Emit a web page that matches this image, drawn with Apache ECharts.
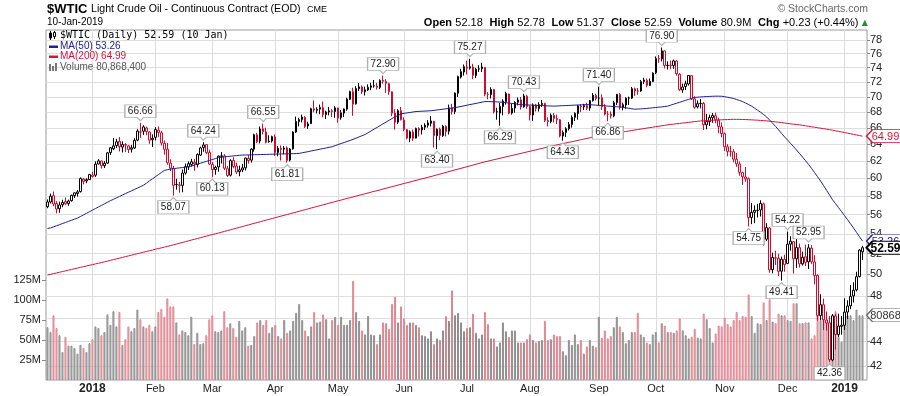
<!DOCTYPE html>
<html><head><meta charset="utf-8">
<script src="https://cdn.jsdelivr.net/npm/echarts@6/dist/echarts.min.js"></script>
<style>html,body{margin:0;padding:0;background:#fff}#c{width:900px;height:396px}</style>
</head><body><div id="c"></div>
<script>
// ---- trading days (categories) ----
const monthDays = [
 [2017,12,[8,11,12,13,14,15,18,19,20,21,22,26,27,28,29]],
 [2018,1,[2,3,4,5,8,9,10,11,12,16,17,18,19,22,23,24,25,26,29,30,31]],
 [2018,2,[1,2,5,6,7,8,9,12,13,14,15,16,20,21,22,23,26,27,28]],
 [2018,3,[1,2,5,6,7,8,9,12,13,14,15,16,19,20,21,22,23,26,27,28,29]],
 [2018,4,[2,3,4,5,6,9,10,11,12,13,16,17,18,19,20,23,24,25,26,27,30]],
 [2018,5,[1,2,3,4,7,8,9,10,11,14,15,16,17,18,21,22,23,24,25,29,30,31]],
 [2018,6,[1,4,5,6,7,8,11,12,13,14,15,18,19,20,21,22,25,26,27,28,29]],
 [2018,7,[2,3,5,6,9,10,11,12,13,16,17,18,19,20,23,24,25,26,27,30,31]],
 [2018,8,[1,2,3,6,7,8,9,10,13,14,15,16,17,20,21,22,23,24,27,28,29,30,31]],
 [2018,9,[4,5,6,7,10,11,12,13,14,17,18,19,20,21,24,25,26,27,28]],
 [2018,10,[1,2,3,4,5,8,9,10,11,12,15,16,17,18,19,22,23,24,25,26,29,30,31]],
 [2018,11,[1,2,5,6,7,8,9,12,13,14,15,16,19,20,21,23,26,27,28,29,30]],
 [2018,12,[3,4,6,7,10,11,12,13,14,17,18,19,20,21,24,26,27,28,31]],
 [2019,1,[2,3,4,7,8,9,10]]
];

// ---- price series ----
const opens = [
 56.85,57.36,58.05,57.20,56.64,57.05,57.40,57.20,57.50,58.05,58.30,58.50,59.90,59.70,59.85,
 60.20,60.35,61.65,62.00,61.45,61.75,63.00,63.45,63.85,64.35,63.65,63.90,63.80,63.40,63.55,64.50,65.50,65.60,66.00,65.50,64.55,
 64.85,65.75,65.40,64.10,63.40,61.75,61.10,59.30,59.25,59.20,60.60,61.30,61.60,61.85,61.60,62.70,63.60,63.95,63.00,
 61.60,61.00,61.30,62.55,62.60,61.10,60.35,62.05,61.40,60.75,60.95,61.20,62.30,62.10,63.40,65.15,64.40,65.90,65.50,64.30,64.40,
 64.90,63.00,63.50,63.40,63.55,62.10,63.45,65.50,66.80,67.05,67.35,66.25,66.55,68.45,68.25,68.40,68.60,67.70,68.05,68.20,68.10,
 68.55,67.30,67.90,68.40,69.70,70.70,69.10,71.10,71.35,70.70,70.95,71.30,71.50,71.45,71.30,72.25,72.10,71.80,70.70,67.90,66.75,68.20,
 67.00,65.80,64.75,65.50,64.75,65.95,65.75,66.10,66.35,66.60,66.85,65.05,65.85,65.05,66.20,65.60,68.60,68.10,70.50,72.70,73.40,
 74.10,73.95,74.10,72.90,73.80,73.85,74.05,70.35,70.30,71.00,68.05,67.90,68.75,69.40,70.40,67.90,68.55,69.30,69.60,68.70,70.10,
 68.75,67.65,68.95,68.50,69.00,69.15,66.95,66.80,67.60,67.20,67.05,65.00,65.45,65.90,66.45,67.35,67.85,68.80,68.70,68.85,68.55,69.50,70.20,
 69.85,69.90,68.70,67.75,67.75,67.55,69.25,70.35,68.60,68.95,69.85,69.85,71.10,70.80,70.80,72.10,72.25,71.55,72.10,
 73.30,75.30,75.25,76.40,74.30,74.35,74.30,74.95,73.10,70.95,71.40,71.75,72.90,69.75,68.70,69.15,69.15,66.40,66.80,67.30,67.55,67.00,66.15,
 65.30,63.70,63.10,63.10,62.20,61.65,60.65,60.15,59.95,55.70,56.25,56.45,56.50,57.15,53.45,54.60,50.45,51.60,51.55,50.30,51.45,
 51.05,52.95,53.20,51.50,52.60,51.00,51.70,51.20,52.55,51.20,49.90,46.25,47.20,45.85,45.60,42.50,46.20,44.60,45.30,
 45.40,46.55,47.10,48.00,48.55,49.80,52.18
];
const highs = [
 57.64,58.28,58.50,57.44,57.40,57.60,57.85,57.62,58.16,58.40,58.66,60.10,60.05,60.00,60.51,
 60.74,61.95,62.21,62.04,61.97,63.07,63.67,64.77,64.66,64.89,64.35,64.13,63.92,63.90,64.74,65.85,66.66,66.35,66.18,65.60,65.20,
 66.10,66.20,65.65,64.45,64.15,62.20,61.42,59.95,59.60,61.00,61.70,61.95,62.25,62.25,62.90,63.70,64.24,64.00,63.35,
 61.90,61.45,62.65,63.05,62.80,61.40,62.20,62.45,61.80,61.45,61.65,62.40,62.70,63.55,65.30,65.40,66.20,66.55,66.05,65.10,65.05,
 65.20,63.80,63.85,63.80,63.75,63.55,65.60,67.45,67.30,67.70,67.50,66.80,68.60,69.55,68.65,69.00,69.40,68.20,68.70,68.40,68.80,
 68.60,68.30,68.50,69.90,70.85,71.25,71.45,71.90,71.55,71.40,71.70,71.90,72.30,71.90,72.40,72.90,72.40,71.95,70.75,68.40,68.40,68.70,
 67.35,65.90,65.70,65.80,66.05,66.10,66.40,66.60,67.00,67.50,66.90,65.95,66.05,66.40,66.35,69.00,69.10,70.60,72.90,73.85,74.45,
 75.00,75.27,74.55,74.00,74.35,74.70,74.10,70.65,71.30,71.10,68.60,69.20,69.70,70.70,70.45,69.10,69.45,69.95,70.00,70.43,70.30,
 68.90,69.15,69.10,69.30,69.60,69.25,67.35,67.85,67.90,67.70,67.15,65.70,66.10,66.75,67.60,68.00,68.95,69.05,69.10,69.25,69.60,70.55,70.45,
 71.40,70.35,69.05,68.15,68.10,69.50,70.40,70.50,69.25,69.95,70.05,71.35,71.25,71.20,72.30,72.60,72.50,72.50,73.35,
 75.60,75.80,76.90,76.45,74.90,75.00,75.15,75.10,73.25,71.80,72.20,72.95,72.95,70.10,69.55,69.75,69.35,67.80,67.70,67.90,67.95,67.30,66.70,
 65.45,64.00,63.80,63.40,62.95,61.95,60.75,61.30,60.10,57.25,57.00,57.15,57.55,57.30,55.10,54.70,52.10,52.30,52.00,51.70,51.90,
 54.22,53.75,53.25,54.00,53.00,52.20,52.90,52.95,52.85,51.85,50.00,48.15,47.75,46.60,46.20,46.38,46.40,46.40,46.20,
 47.78,47.60,49.00,49.25,50.25,52.45,52.78
];
const lows = [
 56.69,57.19,56.90,56.14,56.20,56.80,57.05,56.95,57.40,57.80,57.95,58.40,59.30,59.45,59.80,
 60.10,60.15,61.59,61.12,61.17,61.65,62.72,63.29,63.54,63.13,63.01,63.07,62.94,63.01,63.42,64.36,64.77,65.15,65.10,64.06,63.67,
 64.47,64.90,63.84,62.75,61.55,60.83,58.07,58.72,58.39,58.43,60.41,60.95,61.35,60.85,61.25,62.60,63.10,62.80,61.52,
 60.13,60.40,60.75,61.70,60.95,60.15,60.20,61.15,60.50,60.23,60.70,60.90,61.70,61.80,63.10,64.13,64.10,65.20,64.10,64.20,64.20,
 62.60,62.55,62.05,62.80,61.81,61.95,63.35,65.40,66.20,66.70,66.00,65.90,66.50,68.00,67.85,67.75,67.35,67.15,67.60,67.40,67.30,
 66.65,67.05,67.40,68.20,69.60,67.55,69.00,70.80,70.40,70.20,70.80,70.90,71.25,71.00,71.05,71.80,70.55,70.30,67.50,65.80,66.50,66.95,
 65.60,64.60,64.25,64.40,64.70,64.95,65.20,65.75,66.05,66.20,63.60,63.40,64.50,64.90,64.95,65.20,67.70,67.75,70.00,72.50,72.90,
 73.06,73.75,72.40,72.55,73.40,73.40,70.10,69.70,69.80,67.85,67.05,66.29,67.60,69.00,67.75,67.70,67.95,68.90,68.35,68.60,68.45,
 66.95,66.90,68.10,68.10,68.70,66.75,66.20,66.60,66.70,66.50,64.85,64.43,64.90,65.70,66.05,66.90,67.05,68.05,68.30,68.30,68.20,69.40,69.55,
 68.85,68.30,67.60,66.86,67.20,67.35,68.95,68.35,68.25,68.45,68.95,69.75,70.15,70.30,70.70,71.75,71.30,71.50,72.00,
 73.10,74.70,74.90,73.90,73.75,73.80,73.85,72.90,70.80,70.55,70.95,71.55,69.60,68.45,68.50,68.50,65.75,65.85,66.25,66.65,66.60,65.35,64.85,
 63.20,62.55,62.50,61.85,61.30,60.30,59.25,59.60,54.75,55.00,55.10,55.70,55.80,52.80,53.25,50.15,50.10,50.90,49.85,49.41,50.25,
 51.00,52.30,50.08,50.60,50.65,50.85,50.80,50.50,51.00,49.05,45.80,45.85,45.00,44.94,42.36,42.40,43.35,44.40,44.60,
 45.00,45.95,46.80,47.40,48.40,49.70,51.37
];
const closes = [
 57.36,57.99,57.14,56.60,57.04,57.30,57.16,57.46,58.09,58.36,58.47,59.97,59.64,59.84,60.42,
 60.37,61.63,62.01,61.44,61.73,62.96,63.57,63.80,64.30,63.73,63.97,63.95,63.37,63.57,64.47,65.61,65.51,66.14,65.56,64.50,64.73,
 65.80,65.45,64.15,63.39,61.79,61.15,59.20,59.29,59.19,60.60,61.34,61.68,61.90,61.68,62.77,63.55,63.91,63.01,61.64,
 60.99,61.25,62.57,62.60,61.15,60.32,62.04,61.36,60.71,60.96,61.19,62.34,62.06,63.40,65.17,64.30,65.88,65.55,64.25,64.38,64.94,
 63.01,63.51,63.37,63.54,62.06,63.42,65.51,66.82,67.07,67.39,66.22,66.52,68.47,68.29,68.38,68.64,67.70,68.05,68.19,68.10,68.57,
 67.25,67.93,68.43,69.72,70.73,69.06,71.14,71.36,70.70,70.96,71.31,71.49,71.49,71.28,72.24,72.13,71.84,70.71,67.88,66.73,68.21,67.04,
 65.81,64.75,65.52,64.73,65.95,65.74,66.10,66.36,66.64,66.89,65.06,65.85,65.07,66.22,65.54,68.58,68.08,70.53,72.76,73.45,74.15,
 73.94,74.14,72.94,73.80,73.85,74.11,70.38,70.33,71.01,68.06,68.08,68.76,69.46,70.46,67.89,68.52,69.30,69.61,68.69,70.13,68.76,
 67.66,68.96,68.49,69.01,69.17,66.94,66.81,67.63,67.20,67.04,65.01,65.46,65.91,66.43,67.35,67.86,68.83,68.72,68.87,68.53,69.51,70.25,69.80,
 69.87,68.72,67.77,67.75,67.54,69.25,70.37,68.59,68.99,69.85,69.85,71.12,70.80,70.78,72.08,72.28,71.57,72.12,73.25,
 75.30,75.23,76.41,74.33,74.34,74.29,74.96,73.17,70.97,71.34,71.78,72.92,69.75,68.65,69.12,69.17,66.43,66.82,67.33,67.59,67.04,66.18,65.31,
 63.69,63.14,63.10,62.21,61.67,60.67,60.19,59.93,55.69,56.25,56.46,56.46,57.20,53.43,54.63,50.42,51.63,51.56,50.29,51.45,50.93,
 52.95,53.25,51.49,52.61,51.00,51.65,51.15,52.58,51.20,49.88,46.24,47.20,45.88,45.59,42.53,46.22,44.61,45.33,45.41,
 46.54,47.09,47.96,48.52,49.78,52.36,52.59
];
// volume, millions of contracts
const volumes = [
 66,60,81,65,56,35,54,43,43,40,33,44,40,35,46,51,67,65,56,60,82,69,86,67,85,44,51,67,61,65,88,76,67,65,69,61,67,
 85,89,79,102,92,92,72,57,62,60,56,79,45,59,45,46,56,76,81,61,60,62,86,
 66,
 71,65,54,74,62,66,43,44,55,72,75,69,75,59,66,69,55,52,75,59,
 62,
 74,84,95,75,62,55,67,85,72,73,82,76,52,75,79,69,79,69,69,75,124,85,74,62,57,80,57,56,45,57,72,71,64,95,104,72,92,77,69,72,72,69,66,56,55,52,61,45,52,50,
 62,80,74,112,81,84,72,61,65,66,83,59,52,57,85,70,52,52,42,47,72,61,54,62,62,47,47,47,51,57,
 50,47,49,50,74,50,51,57,55,55,36,31,50,44,57,45,50,33,42,50,43,41,79,53,62,52,55,66,79,67,
 60,46,50,60,60,84,57,54,47,45,57,60,47,71,68,60,60,59,62,77,62,56,52,54,64,53,52,83,76,65,
 47,58,68,67,78,70,67,75,85,75,80,79,107,80,59,71,70,97,75,101,73,71,83,81,81,75,74,96,96,71,
 71,72,72,52,56,83,75,81,73,69,70,86,54,48,83,81,81,75,88,81,80.8684
];
const ma50 = [
 54.55,
 54.60,54.71,54.83,54.94,55.06,55.17,55.29,55.40,55.52,55.63,
 55.80,55.97,56.14,56.31,56.48,56.65,56.82,56.99,57.16,57.33,57.50,
 57.65,57.81,57.96,58.12,58.27,58.43,58.58,58.74,58.89,59.05,59.20,
 59.44,59.69,59.93,60.17,60.41,60.66,60.90,
 60.98,61.05,61.10,61.15,61.19,61.23,61.28,61.33,61.40,
 61.51,61.62,61.73,61.84,61.95,62.06,62.17,62.28,62.40,
 62.44,62.48,62.52,62.56,62.60,62.63,62.67,62.70,
 62.71,62.72,62.73,62.74,62.75,62.76,62.77,62.78,62.79,62.80,62.81,62.82,62.83,62.84,62.85,62.86,62.87,62.88,62.90,
 62.97,63.04,63.11,63.19,63.26,63.33,63.41,63.48,63.55,63.63,63.70,
 63.83,63.96,64.09,64.21,64.34,64.47,64.60,
 64.75,64.90,65.05,65.20,
 65.42,65.64,65.86,66.08,66.30,
 66.53,66.75,66.98,67.20,
 67.40,67.60,67.80,
 67.86,67.92,67.98,68.04,68.10,
 68.12,68.14,68.16,68.18,68.20,
 68.25,68.30,68.35,68.40,68.45,68.50,68.55,68.60,
 68.68,68.76,68.84,68.92,69.00,69.08,69.16,69.24,69.32,69.40,
 69.40,69.39,69.37,69.35,69.33,69.30,
 69.25,69.20,69.15,69.10,69.05,69.00,
 68.98,68.96,68.94,68.92,68.90,68.89,68.87,68.85,68.83,68.82,68.80,
 68.82,68.84,68.86,68.87,68.89,68.91,68.93,68.95,68.96,68.98,69.00,
 68.98,68.96,68.93,68.90,68.87,68.84,68.81,68.78,68.75,68.72,68.70,
 68.64,68.58,68.52,68.46,68.40,
 68.42,68.44,68.47,68.50,68.54,68.58,68.62,68.66,68.70,68.75,68.80,
 68.93,69.06,69.18,69.31,69.44,69.57,69.69,69.82,69.95,
 69.98,70.01,70.04,70.06,70.08,70.10,70.11,70.11,70.10,
 70.04,69.97,69.89,69.80,
 69.67,69.54,69.40,
 69.20,69.00,68.80,
 68.53,68.27,68.00,
 67.70,67.40,
 67.00,66.60,66.20,
 65.77,65.33,64.90,
 64.50,64.10,63.70,63.30,
 62.88,62.45,62.03,61.60,
 61.13,60.65,60.18,59.70,
 59.18,58.65,58.13,57.60,
 57.18,56.75,56.33,55.90,
 55.47,55.03,54.60,
 54.15,53.70,53.26
];
const ma200 = [
 49.95,
 50.00,50.07,50.13,50.20,50.27,50.33,50.40,50.47,50.53,50.60,50.67,50.73,50.80,50.87,50.93,51.00,51.07,51.13,51.20,
 51.27,51.35,51.42,51.49,51.56,51.64,51.71,51.78,51.85,51.93,52.00,52.07,52.15,52.22,52.29,52.36,52.44,52.51,52.58,52.65,52.73,52.80,
 52.88,52.96,53.04,53.12,53.20,53.28,53.36,53.44,53.52,53.60,53.68,53.76,53.84,53.92,54.00,54.08,54.16,54.24,54.32,54.40,
 54.49,54.57,54.66,54.74,54.83,54.91,55.00,55.08,55.17,55.25,55.34,55.42,55.51,55.59,55.68,55.76,55.85,55.93,56.02,56.10,
 56.19,56.27,56.36,56.45,56.53,56.62,56.71,56.79,56.88,56.97,57.05,57.14,57.23,57.31,57.40,
 57.49,57.57,57.66,57.75,57.83,57.92,58.01,58.09,58.18,58.27,58.35,58.44,58.53,58.61,58.70,
 58.79,58.88,58.96,59.05,59.14,59.23,59.32,59.41,59.49,59.58,59.67,59.76,59.85,59.94,60.02,60.11,60.20,
 60.29,60.39,60.48,60.58,60.67,60.77,60.86,60.96,61.05,61.14,61.24,61.33,61.43,61.52,61.62,61.71,61.81,61.90,
 61.98,62.07,62.15,62.23,62.32,62.40,62.48,62.57,62.65,62.73,62.82,62.90,
 62.98,63.07,63.15,63.24,63.32,63.41,63.49,63.58,63.66,63.75,63.83,63.92,64.00,
 64.08,64.16,64.24,64.31,64.39,64.47,64.55,64.63,64.71,64.79,64.86,64.94,65.02,65.10,
 65.16,65.22,65.28,65.34,65.40,65.45,65.51,65.57,65.63,65.69,65.75,65.81,65.87,65.93,65.99,66.05,66.11,66.17,66.22,66.28,66.34,66.40,
 66.45,66.49,66.54,66.58,66.63,66.67,66.72,66.76,66.81,66.85,66.90,
 66.92,66.94,66.96,66.98,67.00,67.02,67.04,67.06,67.07,67.09,67.10,
 67.10,67.09,67.08,67.07,67.05,67.03,67.01,66.99,66.96,66.93,66.90,
 66.86,66.82,66.77,66.73,66.68,66.63,66.58,66.53,66.48,66.44,66.40,
 66.34,66.28,66.22,66.16,66.10,66.04,65.98,65.92,65.86,65.80,
 65.73,65.65,65.58,65.51,65.43,65.36,65.29,65.21,65.14,65.06,64.99
];
const priceTicks = [42,44,46,48,50,52,54,56,58,60,62,64,66,68,70,72,74,76,78];
const volumeTicks = [25,50,75,100,125];
const monthNames = ['Jan','Feb','Mar','Apr','May','Jun','Jul','Aug','Sep','Oct','Nov','Dec'];
const annotations = [
 ['2018-01-25','high'],['2018-02-09','low'],['2018-02-26','high'],['2018-03-01','low'],
 ['2018-03-26','high'],['2018-04-06','low'],['2018-05-22','high'],['2018-06-18','low'],
 ['2018-07-03','high'],['2018-07-18','low'],['2018-07-30','high'],['2018-08-16','low'],
 ['2018-09-04','high'],['2018-09-07','low'],['2018-10-03','high'],['2018-11-13','low'],
 ['2018-11-29','low'],['2018-12-03','high'],['2018-12-13','high'],['2018-12-24','low']
];

// ---- build ----
const pad = n => String(n).padStart(2,'0');
const dates = [];
monthDays.forEach(([y,m,days]) => days.forEach(d => dates.push(y+'-'+pad(m)+'-'+pad(d))));
const N = dates.length;
const cats = dates.concat(['']);
const ln = Math.log;
const RED = '#d20a2e', BLACK = '#000000', NAVY = '#20208f', MA200C = '#d4143c';
const monthStart = new Set();
for (let i = 1; i < N; i++) if (dates[i].slice(5,7) !== dates[i-1].slice(5,7)) monthStart.add(i);

const candleData = dates.map((d,i) => {
  const up = i === 0 ? true : closes[i] >= closes[i-1];
  const key = up ? BLACK : RED;
  return {value:[ln(opens[i]), ln(closes[i]), ln(lows[i]), ln(highs[i])],
    itemStyle:{color:'#ffffff', color0:key, borderColor:key, borderColor0:key, borderWidth:1}};
});
const volData = volumes.map((v,i) => {
  const down = i > 0 && closes[i] < closes[i-1];
  return {value:v, itemStyle:{color: down ? '#f2bcc2' : '#bdbdbd', borderColor: down ? '#df8590' : '#8e8e8e', borderWidth:1}};
});

const aboveBox = 'path://M0,0L30,0L30,12L18,12L15,15L12,12L0,12Z';
const belowBox = 'path://M0,3L12,3L15,0L18,3L30,3L30,15L0,15Z';
const tagPath = 'path://M0,6.5L6,0L40,0L40,13L6,13Z';
const annPoints = annotations.map(([d,kind]) => {
  const i = dates.indexOf(d);
  const v = kind === 'high' ? highs[i] : lows[i];
  const hi = kind === 'high';
  return {coord:[d, ln(v)], symbol: hi ? aboveBox : belowBox, symbolSize:[31,16], symbolKeepAspect:false,
    symbolOffset:[0, hi ? -10 : 10],
    itemStyle:{color:'#ffffff', borderColor:'#b0b0b0', borderWidth:1},
    label:{show:true, position:'inside', offset:[0, hi ? -1.5 : 1.5], formatter: v.toFixed(2),
      color:'#222', fontSize:10, fontFamily:'Liberation Sans'}};
});
function tag(coord, text, color, textColor, bold, bw) {
  return {coord, symbol: tagPath, symbolSize:[40,13], symbolKeepAspect:false, symbolOffset:[24,0],
    itemStyle:{color:'#ffffff', borderColor:color, borderWidth:bw},
    label:{show:true, position:'inside', offset:[-1,0.5], formatter:text, color:textColor,
      fontSize: bold ? 12 : 11, fontWeight: bold ? 'bold' : 'normal', fontFamily:'Liberation Sans'}};
}
const last = N - 1;
const lastDate = dates[last];
const closeTag = tag([lastDate, ln(closes[last])], closes[last].toFixed(2), '#000', '#000', true, 1.5);
const ma50Tag = tag([lastDate, ln(ma50[last])], ma50[last].toFixed(2), NAVY, NAVY, false, 1);
const ma200Tag = tag([lastDate, ln(ma200[last])], ma200[last].toFixed(2), MA200C, MA200C, false, 1);
const volTag = tag([lastDate, volumes[last]], String(Math.round(volumes[last]*1000)), '#666', '#333', false, 1);

const chg = closes[last] - closes[last-1];
const pct = chg / closes[last-1] * 100;
const sign = chg >= 0 ? '+' : '';
const dd = dates[last].split('-');
const dateLong = dd[2] + '-' + monthNames[+dd[1]-1] + '-' + dd[0];
const dateShort = (+dd[2]) + ' ' + monthNames[+dd[1]-1];
const headerRight = '{b|Open} {n|' + opens[last].toFixed(2) + '}  {b|High} {n|' + highs[last].toFixed(2) +
  '}  {b|Low} {n|' + lows[last].toFixed(2) + '}  {b|Close} {n|' + closes[last].toFixed(2) +
  '}  {b|Volume} {n|' + volumes[last].toFixed(1) + 'M}  {b|Chg} {n|' + sign + chg.toFixed(2) +
  ' (' + sign + pct.toFixed(2) + '%)} {g|▲}';

const FF = '"Liberation Sans", Arial, sans-serif';
function txt(x, y, text, font, fill, align) {
  return {type:'text', x, y, z:50, silent:true,
    style:{text, font, fill, align: align || 'left', textAlign: align || 'left', verticalAlign:'middle', textVerticalAlign:'middle'}};
}

const chart = echarts.init(document.getElementById('c'), null, {renderer:'canvas'});
chart.setOption({
  animation:false,
  backgroundColor:'#ffffff',
  grid:{left:46, right:33, top:30, bottom:16, show:true, borderColor:'#9a9a9a', borderWidth:1, backgroundColor:'transparent'},
  xAxis:{type:'category', data:cats, boundaryGap:true,
    axisLine:{show:false}, axisTick:{show:false}, splitLine:{show:false},
    axisLabel:{interval:(i) => monthStart.has(i), hideOverlap:false, margin:3, fontSize:11, color:'#222', fontFamily:FF,
      formatter:(v) => { if (!v) return ''; const m = +v.slice(5,7); return m === 1 ? '{y|' + v.slice(0,4) + '}' : monthNames[m-1]; },
      rich:{y:{fontWeight:'bold', fontSize:12, fontFamily:FF, color:'#222'}}}},
  yAxis:[
    {type:'value', position:'right', min:ln(40.92), max:ln(79.49),
      axisLine:{show:false},
      axisTick:{show:true, length:3, customValues:priceTicks.map(ln), lineStyle:{color:'#888'}},
      axisLabel:{customValues:priceTicks.map(ln), formatter:(v) => String(Math.round(Math.exp(v))), margin:3,
        fontSize:11, color:'#222', fontFamily:FF},
      splitLine:{show:true, lineStyle:{color:'#dedede', width:1}}},
    {type:'value', position:'left', min:0, max:437.5,
      axisLine:{show:false},
      axisTick:{show:true, length:4, customValues:volumeTicks, lineStyle:{color:'#888'}},
      axisLabel:{customValues:volumeTicks, formatter:(v) => v + 'M', margin:5, fontSize:11, color:'#222', fontFamily:FF},
      splitLine:{show:false}}
  ],
  series:[
    {type:'bar', name:'Volume', xAxisIndex:0, yAxisIndex:1, data:volData, barWidth:2, z:2, silent:true,
      markLine:{silent:true, z:1, symbol:'none', label:{show:false}, animation:false,
        lineStyle:{color:'#dcdcdc', type:'solid', width:1},
        data:[...monthStart].map(i => ({xAxis: dates[i]}))},
      markPoint:{z:12, silent:true, animation:false, data:[volTag]}},
    {type:'candlestick', name:'$WTIC', yAxisIndex:0, data:candleData, barWidth:2, z:3, silent:true,
      markPoint:{z:14, silent:true, animation:false, data: annPoints.concat([closeTag])}},
    {type:'line', name:'MA(200)', yAxisIndex:0, data:ma200.map(ln), symbol:'none', z:4, silent:true,
      lineStyle:{color:MA200C, width:1}, itemStyle:{color:MA200C},
      markPoint:{z:12, silent:true, animation:false, data:[ma200Tag]}},
    {type:'line', name:'MA(50)', yAxisIndex:0, data:ma50.map(ln), symbol:'none', z:4, silent:true,
      lineStyle:{color:NAVY, width:1}, itemStyle:{color:NAVY},
      markPoint:{z:13, silent:true, animation:false, data:[ma50Tag]}}
  ],
  graphic:[
    txt(47, 9.5, '$WTIC', 'bold 13px ' + FF, '#000'),
    txt(91, 9.5, 'Light Crude Oil - Continuous Contract (EOD)', '10.6px ' + FF, '#000'),
    txt(307, 10, 'CME', '9px ' + FF, '#000'),
    txt(47, 22.5, dateLong, '10px ' + FF, '#000'),
    txt(868, 9, '© StockCharts.com', '10.5px ' + FF, '#666', 'right'),
    {type:'text', x:868, y:22.5, z:50, silent:true,
      style:{text:headerRight, align:'right', textAlign:'right', verticalAlign:'middle', textVerticalAlign:'middle',
        rich:{b:{fontWeight:'bold', fontSize:11, fontFamily:FF, fill:'#000'},
              n:{fontSize:11, fontFamily:FF, fill:'#000'},
              g:{fontSize:8, fontFamily:'DejaVu Sans', fill:'#2e8b3a'}}}},
    // legend
    {type:'line', z:50, silent:true, shape:{x1:50.5, y1:31, x2:50.5, y2:40}, style:{stroke:'#000', lineWidth:1}},
    {type:'rect', z:51, silent:true, shape:{x:49.5, y:33, width:2, height:5}, style:{fill:'#000', stroke:'#000', lineWidth:1}},
    {type:'line', z:50, silent:true, shape:{x1:54.5, y1:31, x2:54.5, y2:39}, style:{stroke:'#000', lineWidth:1}},
    {type:'rect', z:51, silent:true, shape:{x:53.5, y:32.5, width:2, height:4}, style:{fill:'#fff', stroke:'#000', lineWidth:1}},
    txt(60, 35.5, '$WTIC (Daily) ' + closes[last].toFixed(2) + ' (' + dateShort + ')', '10px "DejaVu Sans Mono", monospace', '#000'),
    {type:'rect', z:50, silent:true, shape:{x:49, y:45.5, width:9, height:2.5}, style:{fill:NAVY}},
    txt(60, 46.5, 'MA(50) ' + ma50[last].toFixed(2), '10px ' + FF, NAVY),
    {type:'rect', z:50, silent:true, shape:{x:49, y:55.5, width:9, height:2.5}, style:{fill:MA200C}},
    txt(60, 56.5, 'MA(200) ' + ma200[last].toFixed(2), '10px ' + FF, MA200C),
    {type:'rect', z:50, silent:true, shape:{x:49, y:64, width:2, height:7}, style:{fill:'#777'}},
    {type:'rect', z:50, silent:true, shape:{x:52, y:66, width:2, height:5}, style:{fill:'#777'}},
    {type:'rect', z:50, silent:true, shape:{x:55, y:63, width:2, height:8}, style:{fill:'#777'}},
    txt(60, 67.5, 'Volume ' + Math.round(volumes[last]*1e6).toLocaleString('en-US'), '10px ' + FF, '#555')
  ]
});
</script></body></html>
